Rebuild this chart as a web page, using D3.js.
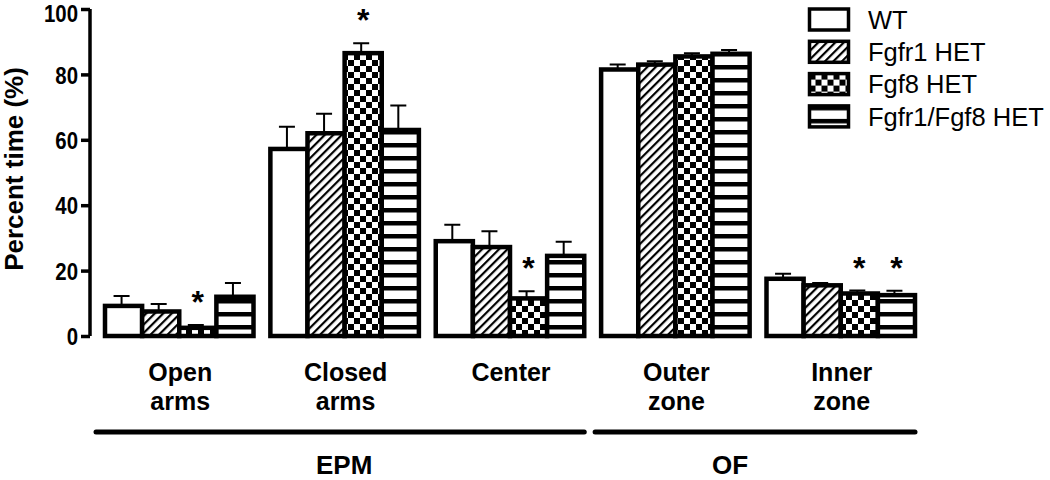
<!DOCTYPE html>
<html>
<head>
<meta charset="utf-8">
<script src="https://cdn.jsdelivr.net/npm/d3@7"></script>
<style>
  body { margin: 0; background: #fff; }
  text { font-family: "Liberation Sans", Arial, sans-serif; }
  .bold { font-weight: bold; }
</style>
</head>
<body>
<div class="container"></div>
<script>
"use strict";

// data
const categories = [["Open", "arms"], ["Closed", "arms"], ["Center"], ["Outer", "zone"], ["Inner", "zone"]];
const genotypes = ["WT", "Fgfr1 HET", "Fgf8 HET", "Fgfr1/Fgf8 HET"];
const wtMean = [9.2, 57.2, 29.0, 81.5, 17.5];
const wtErr = [3.0, 6.8, 5.0, 1.5, 1.5];
const fgfr1Mean = [7.5, 62.0, 27.2, 83.0, 15.5];
const fgfr1Err = [2.3, 6.0, 4.8, 1.0, 0.7];
const fgf8Mean = [2.5, 86.5, 11.5, 85.5, 13.0];
const fgf8Err = [0.9, 3.0, 2.2, 1.0, 0.9];
const comboMean = [12.0, 63.0, 24.5, 86.3, 12.5];
const comboErr = [4.2, 7.5, 4.3, 1.2, 1.3];
// asterisks: [category index, genotype index]
const stars = [[0, 2], [1, 2], [2, 2], [4, 2], [4, 3]];
const yTicks = [0, 20, 40, 60, 80, 100];
const sections = [{ name: "EPM", from: 0, to: 2 }, { name: "OF", from: 3, to: 4 }];

const means = [wtMean, fgfr1Mean, fgf8Mean, comboMean];
const errs = [wtErr, fgfr1Err, fgf8Err, comboErr];

const width = 1050, height = 480;
const axisX = 90;

const svg = d3.select(".container").append("svg")
  .attr("width", width).attr("height", height);

//patterns
const defs = svg.append("defs");
const hatch = defs.append("pattern").attr("id", "hatch")
  .attr("patternUnits", "userSpaceOnUse").attr("width", 6).attr("height", 6)
  .attr("patternTransform", "rotate(45)");
hatch.append("rect").attr("width", 6).attr("height", 6).attr("fill", "#fff");
hatch.append("rect").attr("x", 0).attr("width", 2.2).attr("height", 6).attr("fill", "#000");

const check = defs.append("pattern").attr("id", "check")
  .attr("patternUnits", "userSpaceOnUse").attr("width", 12).attr("height", 12);
check.append("rect").attr("width", 12).attr("height", 12).attr("fill", "#fff");
check.append("rect").attr("width", 6).attr("height", 6).attr("fill", "#000");
check.append("rect").attr("x", 6).attr("y", 6).attr("width", 6).attr("height", 6).attr("fill", "#000");

const stripes = defs.append("pattern").attr("id", "stripes")
  .attr("patternUnits", "userSpaceOnUse").attr("width", 13).attr("height", 13);
stripes.append("rect").attr("width", 13).attr("height", 13).attr("fill", "#fff");
stripes.append("rect").attr("y", 0).attr("width", 13).attr("height", 4.5).attr("fill", "#000");

const fills = ["#fff", "url(#hatch)", "url(#check)", "url(#stripes)"];

// scales
const y = d3.scaleLinear().domain([0, 100]).range([336, 9]);
const x0 = d3.scaleBand().domain(d3.range(categories.length))
  .range([103, 913]).paddingInner(0.102);
const x1 = d3.scaleBand().domain(d3.range(genotypes.length))
  .range([0, x0.bandwidth()]);

// y axis
const yAxis = d3.axisLeft(y).tickValues(yTicks).tickSize(9).tickPadding(0);
const gy = svg.append("g").attr("transform", "translate(" + axisX + ",0)").call(yAxis);
gy.select(".domain").attr("stroke-width", 3.5).attr("d", "M0," + y(100) + "V" + y(0));
gy.selectAll(".tick line").attr("stroke-width", 3.5);
gy.selectAll(".tick text").attr("class", "bold").attr("x", 0).attr("dy", "0.36em")
  .attr("transform", (d) => "translate(-12," + (d === 100 ? 4 : 0) + ") scale(0.85,1)")
  .style("font-size", "24px")
  .style("font-family", "'Liberation Sans', Arial, sans-serif").attr("fill", "#000");

svg.append("text").attr("class", "bold")
  .attr("transform", "translate(23,169) rotate(-90)")
  .attr("text-anchor", "middle").style("font-size", "26px").text("Percent time (%)");

// bars
const barData = [];
categories.forEach((c, ci) => {
  genotypes.forEach((g, gi) => {
    barData.push({ ci: ci, gi: gi, v: means[gi][ci], e: errs[gi][ci] });
  });
});

const bars = svg.append("g");
// error bars first
bars.selectAll(".err").data(barData).enter().append("path")
  .attr("fill", "none").attr("stroke", "#000").attr("stroke-width", 2)
  .attr("d", (d) => {
    const cx = x0(d.ci) + x1(d.gi) + x1.bandwidth() / 2;
    return "M" + cx + "," + y(d.v) + "V" + y(d.v + d.e) +
      "M" + (cx - 8) + "," + y(d.v + d.e) + "H" + (cx + 8);
  });
bars.selectAll(".bar").data(barData).enter().append("rect")
  .attr("x", (d) => x0(d.ci) + x1(d.gi) + 2)
  .attr("width", x1.bandwidth())
  .attr("y", (d) => y(d.v))
  .attr("height", (d) => y(0) - y(d.v))
  .attr("fill", (d) => fills[d.gi])
  .attr("stroke", "#000").attr("stroke-width", 4.5);

// asterisks
svg.append("g").selectAll("text").data(stars).enter().append("text")
  .attr("class", "bold").attr("text-anchor", "middle").style("font-size", "32px")
  .attr("x", (d) => x0(d[0]) + x1(d[1]) + x1.bandwidth() / 2 + 2)
  .attr("y", (d) => y(means[d[1]][d[0]] + errs[d[1]][d[0]]) - 12)
  .text("*");

// category labels
const catG = svg.append("g");
categories.forEach((c, ci) => {
  const cx = x0(ci) + x0.bandwidth() / 2 + 3;
  const t = catG.append("text").attr("class", "bold").attr("text-anchor", "middle")
    .style("font-size", "25px")
    .attr("x", cx).attr("y", 381);
  c.forEach((line, li) => {
    t.append("tspan").attr("x", cx).attr("dy", li === 0 ? 0 : 29).text(line);
  });
});

// section lines and names (OF name sits left of its line centre in the original)
const nameShift = [4, -25];
sections.forEach((s, si) => {
  const left = si === 0 ? axisX + 6 : x0(s.from) - 4;
  const right = x0(s.to) + x0.bandwidth() + 2;
  svg.append("line").attr("x1", left).attr("x2", right)
    .attr("y1", 432).attr("y2", 432)
    .attr("stroke", "#000").attr("stroke-width", 5).attr("stroke-linecap", "round");
  svg.append("text").attr("class", "bold").attr("text-anchor", "middle")
    .style("font-size", "26px").attr("x", (left + right) / 2 + nameShift[si])
    .attr("y", 474).text(s.name);
});

// legend
const legend = svg.append("g").attr("transform", "translate(809.5,9)");
const lg = legend.selectAll("g").data(genotypes).enter().append("g")
  .attr("transform", (d, i) => "translate(0," + i * 32.3 + ")");
lg.append("rect").attr("width", 39).attr("height", 21)
  .attr("fill", (d, i) => fills[i]).attr("stroke", "#000").attr("stroke-width", 3.5);
lg.append("text").attr("x", 58.5).attr("y", 10.5).attr("dy", ".36em")
  .style("font-size", "25.5px").text((d) => d);
</script>
</body>
</html>
